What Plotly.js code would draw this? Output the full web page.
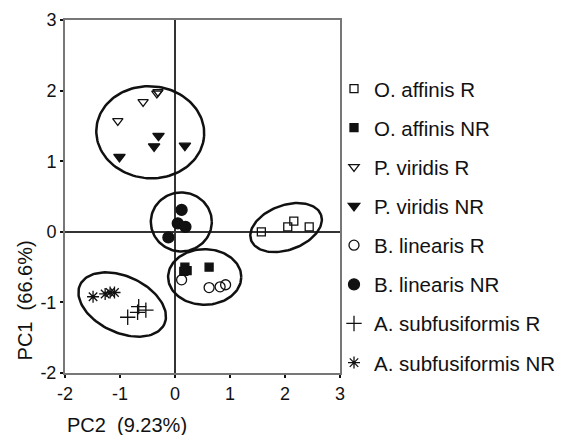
<!DOCTYPE html>
<html>
<head>
<meta charset="utf-8">
<script src="https://cdn.plot.ly/plotly-3.0.1.min.js"></script>
<style>html,body{margin:0;padding:0;background:#fff;}#chart{width:566px;height:435px;}</style>
</head>
<body>
<div id="chart"></div>
<script>
// ---- data ----
const groups = ["O. affinis R","O. affinis NR","P. viridis R","P. viridis NR","B. linearis R","B. linearis NR","A. subfusiformis R","A. subfusiformis NR"];
const pc2_oaR  = [1.57, 2.05, 2.16, 2.44];
const pc1_oaR  = [0.00, 0.07, 0.15, 0.07];
const pc2_oaNR = [0.18, 0.22, 0.16, 0.62];
const pc1_oaNR = [-0.50, -0.55, -0.56, -0.50];
const pc2_pvR  = [-1.04, -0.58, -0.33, -0.31];
const pc1_pvR  = [1.57, 1.84, 1.96, 1.98];
const pc2_pvNR = [-0.30, -0.38, 0.18, -1.01];
const pc1_pvNR = [1.36, 1.21, 1.22, 1.06];
const pc2_blR  = [0.12, 0.62, 0.82, 0.92];
const pc1_blR  = [-0.68, -0.79, -0.78, -0.75];
const pc2_blNR = [0.12, 0.05, 0.19, -0.12];
const pc1_blNR = [0.31, 0.12, 0.07, -0.08];
const pc2_asR  = [-0.86, -0.68, -0.66, -0.53];
const pc1_asR  = [-1.21, -1.14, -1.06, -1.11];
const pc2_asNR = [-1.49, -1.27, -1.18, -1.10];
const pc1_asNR = [-0.92, -0.88, -0.86, -0.86];
// ellipses: centre (PC2, PC1), semi-axes, tilt
const ellCx = [-0.45, 0.115, 2.02, 0.54, -0.96];
const ellCy = [1.41, 0.14, 0.06, -0.64, -1.03];
const ellA  = [54, 30.5, 37.2, 36.6, 46.5];
const ellB  = [46, 29.5, 22.3, 27.8, 28.1];
const ellT  = [-4, 0, 20, 0, -25];
const xTicks = [-2, -1, 0, 1, 2, 3];
const yTicks = [-2, -1, 0, 1, 2, 3];

const xs = [pc2_oaR, pc2_oaNR, pc2_pvR, pc2_pvNR, pc2_blR, pc2_blNR, pc2_asR, pc2_asNR];
const ys = [pc1_oaR, pc1_oaNR, pc1_pvR, pc1_pvNR, pc1_blR, pc1_blNR, pc1_asR, pc1_asNR];
const symbols = ["square-open","square","triangle-down-open","triangle-down","circle-open","circle","cross-thin-open","asterisk-open"];
const sizes = [8, 8, 9, 10, 10, 11, 11, 10];

const W = 566, H = 435;
const M = {l: 65, r: 226, t: 20, b: 62, autoexpand: false};
const xr = [-2, 3], yr = [-2, 3];
const sx = (W - M.l - M.r) / (xr[1] - xr[0]);
const sy = (H - M.t - M.b) / (yr[1] - yr[0]);

const traces = [];
for (let e = 0; e < ellCx.length; e++) {
  const ex = [], ey = [];
  const th = ellT[e] * Math.PI / 180;
  for (let k = 0; k <= 120; k++) {
    const t = 2 * Math.PI * k / 120;
    const dx = ellA[e] * Math.cos(t) * Math.cos(th) - ellB[e] * Math.sin(t) * Math.sin(th);
    const dy = ellA[e] * Math.cos(t) * Math.sin(th) + ellB[e] * Math.sin(t) * Math.cos(th);
    ex.push(ellCx[e] + dx / sx);
    ey.push(ellCy[e] + dy / sy);
  }
  traces.push({x: ex, y: ey, mode: "lines", line: {color: "#111", width: 2.5},
    showlegend: false, hoverinfo: "skip"});
}
for (let g = 0; g < groups.length; g++) {
  traces.push({x: xs[g], y: ys[g], mode: "markers", name: groups[g], legendgroup: "g" + g,
    marker: {symbol: symbols[g], size: sizes[g], color: "#111", line: {color: "#111", width: 1.3}}});
}

const layout = {
  width: W, height: H, margin: M,
  paper_bgcolor: "#fff", plot_bgcolor: "#fff",
  font: {family: "Liberation Sans, Arial, sans-serif", color: "#111"},
  showlegend: true,
  legend: {x: (334 - M.l) / (W - M.l - M.r), xanchor: "left", y: 0.862, yanchor: "top",
    font: {size: 20.5, color: "#111"}, tracegroupgap: 9.5, bgcolor: "rgba(0,0,0,0)"},
  xaxis: {range: xr, tickvals: xTicks, ticktext: xTicks.map(String), showgrid: false,
    zeroline: true, zerolinecolor: "#333", zerolinewidth: 1.5,
    showline: true, linecolor: "#777", linewidth: 2, mirror: true,
    ticks: "outside", ticklen: 3, tickwidth: 2, tickcolor: "#111",
    tickfont: {size: 18}, fixedrange: true, automargin: false},
  yaxis: {range: yr, tickvals: yTicks, ticktext: yTicks.map(String), showgrid: false,
    zeroline: true, zerolinecolor: "#333", zerolinewidth: 1.5,
    showline: true, linecolor: "#777", linewidth: 2, mirror: true,
    ticks: "outside", ticklen: 3, tickwidth: 2, tickcolor: "#111",
    tickfont: {size: 18}, fixedrange: true, automargin: false},
  annotations: [
    {text: "PC2  (9.23%)", xref: "paper", yref: "paper", x: 0, xanchor: "left",
     y: -(425 - (H - M.b)) / (H - M.t - M.b), yanchor: "middle", showarrow: false,
     font: {size: 20, color: "#111"}},
    {text: "PC1  (66.6%)", xref: "paper", yref: "paper", x: -(M.l - 25) / (W - M.l - M.r), xanchor: "center",
     y: 0.03, yanchor: "bottom", textangle: -90, showarrow: false,
     font: {size: 20, color: "#111"}}
  ]
};
Plotly.newPlot("chart", traces, layout, {staticPlot: true, displayModeBar: false});
</script>
</body>
</html>
